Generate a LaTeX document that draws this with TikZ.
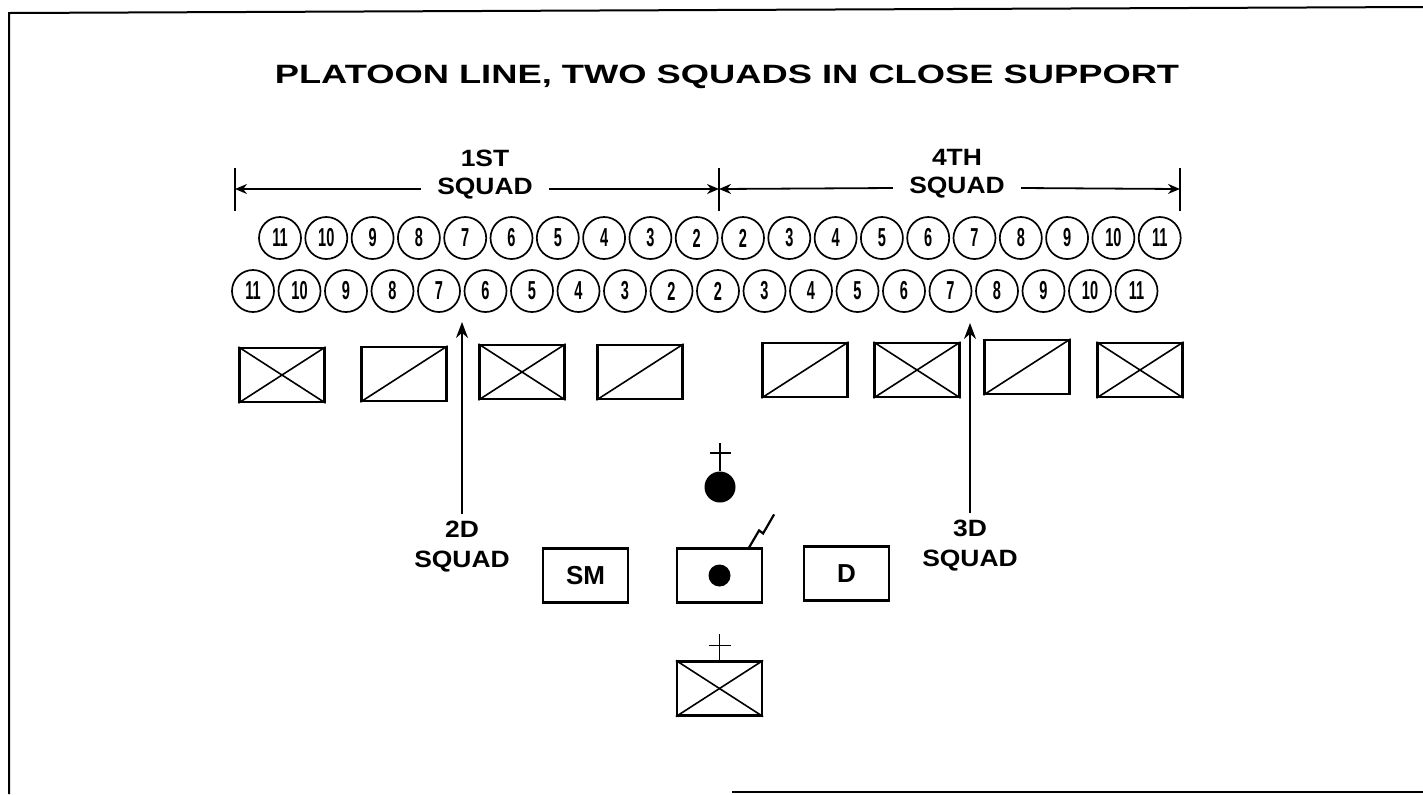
\documentclass[tikz,border=0pt]{standalone}
\usepackage{fontspec}
\setmainfont{Liberation Sans}
\newfontfamily\ttlfont[FakeStretch=1.37]{Liberation Sans}
\newfontfamily\lblfont[FakeStretch=1.12]{Liberation Sans}
\newfontfamily\numfont[FakeStretch=0.56]{Liberation Sans}
\usetikzlibrary{arrows.meta}
\tikzset{
  soldier/.style={circle,draw,line width=0.85pt,minimum size=21pt,inner sep=0pt,
    font=\numfont\bfseries\fontsize{13}{13}\selectfont},
  vehbox/.style={rectangle,draw,line width=1.1pt,minimum width=42.5pt,minimum height=27pt,
    inner sep=0pt,font=\bfseries\fontsize{13}{15}\selectfont},
  sqlbl/.style={font=\lblfont\bfseries\fontsize{11.8}{15}\selectfont,align=center},
  dimarr/.style={line width=0.9pt,-{Stealth[length=6pt,width=5pt]}},
  uparr/.style={line width=1pt,-{Stealth[length=8pt,width=6pt]}}
}

\begin{document}
\begin{tikzpicture}[x=0.5pt,y=-0.5pt]
  \useasboundingbox[fill=white] (0,0) rectangle (1423,794);
  % frame, cut by the scan
  \draw[line width=1pt] (9,794) -- (9,13) -- (1423,7);
  \draw[line width=1.2pt] (732,792) -- (1423,792);
  \node[font=\ttlfont\bfseries\fontsize{13.25}{16}\selectfont,anchor=base] (ttl) at (727,83)
    {PLATOON LINE, TWO SQUADS IN CLOSE SUPPORT};
  % frontage of the two leading squads
  \coordinate (t1) at (235,189);
  \coordinate (t2) at (719,189);
  \coordinate (t3) at (1180,189);
  \foreach \t in {t1,t2,t3}
    \draw[line width=1pt] (\t) ++(0,-21) -- ++(0,43);
  \node[sqlbl,inner xsep=8pt] (s1) at (485,189) {SQUAD};
  \node[sqlbl] (n1) at (485,158) {1ST};
  \node[sqlbl,inner xsep=8pt] (s4) at (957,188) {SQUAD};
  \node[sqlbl] (n4) at (957,157) {4TH};
  \draw[dimarr] (s1.west) -- (t1);
  \draw[dimarr] (s1.east) -- (t2);
  \draw[dimarr] (s4.west) -- (t2);
  \draw[dimarr] (s4.east) -- (t3);
  % men of the squads, front and rear rank
  \foreach \n [count=\i] in {11,10,9,8,7,6,5,4,3,2,2,3,4,5,6,7,8,9,10,11} {
    \node[soldier] (f\i) at ({280+46.3*(\i-1)},238) {\n};
    \node[soldier] (r\i) at ({253+46.5*(\i-1)},291) {\n};
  }
  % vehicles
  \foreach \x/\y/\k [count=\i] in {282/375/1,404/374/0,522/372/1,640/372/0,
                                   805/370/0,917/370/1,1027/367/0,1140/370/1} {
    \node[vehbox] (b\i) at (\x,\y) {};
    \draw[line width=0.8pt] (b\i.south west) -- (b\i.north east);
    \ifnum\k=1 \draw[line width=0.8pt] (b\i.north west) -- (b\i.south east); \fi
  }
  % squads in close support
  \node[sqlbl] (sq2) at (462,547) {2D\\SQUAD};
  \node[sqlbl] (sq3) at (970,546) {3D\\SQUAD};
  \coordinate (p2) at (462,322);
  \coordinate (p3) at (970,323);
  \draw[uparr] (sq2.north) -- (p2);
  \draw[uparr] (sq3.north) -- (p3);
  % platoon headquarters
  \node[circle,fill,minimum size=15.5pt,inner sep=0pt] (pl) at (720,487) {};
  \draw[line width=0.8pt] (pl.north) -- ++(0,-28);
  \draw[line width=0.8pt] (pl.north) ++(-10.5,-18) -- ++(21,0);
  \node[vehbox] (sm) at (585.5,575.5) {SM};
  \node[vehbox] (pc) at (719.5,575.5) {};
  \node[circle,fill,minimum size=11pt,inner sep=0pt] (pd) at (pc.center) {};
  \draw[line width=1.1pt] (pc.north east) ++(-14,0) -- ++(10,-17) -- ++(4,3) -- ++(11,-19);
  \node[vehbox] (dm) at (846.5,573.5) {D};
  \node[vehbox] (hq) at (719.5,688.5) {};
  \draw[line width=0.8pt] (hq.south west) -- (hq.north east);
  \draw[line width=0.8pt] (hq.north west) -- (hq.south east);
  \draw[line width=0.9pt] (hq.north) -- ++(0,-26);
  \draw[line width=0.9pt] (hq.north) ++(-11,-15) -- ++(22,0);
\end{tikzpicture}
\end{document}
